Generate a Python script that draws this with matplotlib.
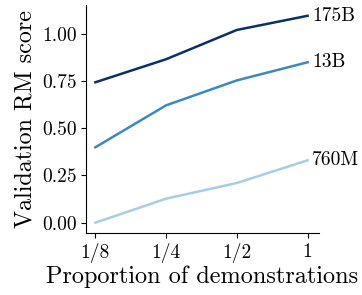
import numpy as np
import matplotlib
matplotlib.use('Agg')
import matplotlib.pyplot as plt

plt.rcParams['font.family'] = 'serif'
plt.rcParams['font.serif'] = ['cmr10']
plt.rcParams['mathtext.fontset'] = 'cm'
plt.rcParams['axes.unicode_minus'] = False
plt.rcParams['axes.formatter.use_mathtext'] = True

proportions = ['1/8', '1/4', '1/2', '1']
models = ['760M', '13B', '175B']
scores_760m = [0.0, 0.127, 0.21, 0.33]
scores_13b = [0.399, 0.621, 0.753, 0.849]
scores_175b = [0.743, 0.865, 1.02, 1.095]
colors = ['#a6cde4', '#3a89c3', '#0b2f6b']

fig = plt.figure(figsize=(3.62, 2.95), dpi=100)
ax = fig.add_axes([0.238, 0.21, 0.643, 0.773])

x = np.arange(len(proportions))
for name, ys, c in zip(models, [scores_760m, scores_13b, scores_175b], colors):
    ax.plot(x, ys, color=c, lw=1.8)
    ax.text(x[-1] + 0.06, ys[-1], name, fontsize=14, va='center', ha='left')

ax.set_xticks(x)
ax.set_xticklabels(proportions)
ax.set_yticks([0, 0.25, 0.5, 0.75, 1.0])
ax.set_yticklabels(['0.00', '0.25', '0.50', '0.75', '1.00'])
ax.set_xlim(-0.13, 3.16)
ax.set_ylim(-0.055, 1.152)
ax.tick_params(labelsize=14)
ax.spines['top'].set_visible(False)
ax.spines['right'].set_visible(False)
ax.set_xlabel('Proportion of demonstrations', fontsize=17.5, labelpad=2)
ax.set_ylabel('Validation RM score', fontsize=17.3, labelpad=4)

fig.savefig('out.png', dpi=100)
